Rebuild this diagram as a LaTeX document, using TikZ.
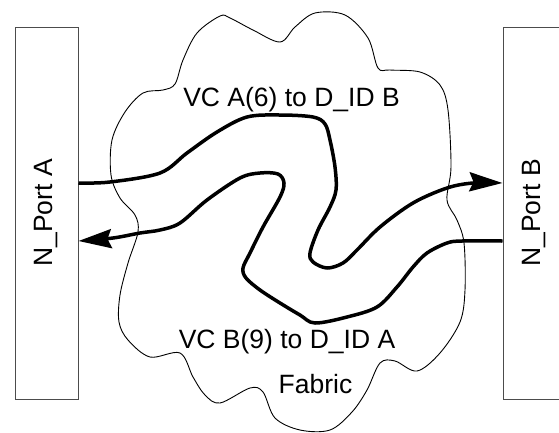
\documentclass[tikz,border=0pt]{standalone}
\usepackage{fontspec}
\setmainfont{Liberation Sans}
\usetikzlibrary{arrows.meta}

\tikzset{
  portbox/.style={draw=black!70, line width=1pt, minimum width=63pt, minimum height=372pt, inner sep=0pt},
  vc/.style={line width=3.5pt, line join=round},
  vctip/.style={-{Stealth[length=33pt, width=19pt, inset=4pt]}},
  lbl/.style={anchor=base, inner sep=0pt},
}

\begin{document}
\begin{tikzpicture}[x=1pt, y=-1pt, font=\fontsize{26.5}{30}\selectfont]
    \clip (0,0) rectangle (559,432);
    % The fabric cloud.
        \draw[line width=0.9pt] plot[smooth cycle, tension=0.55] coordinates {
            (220,16) (197,33) (183,60) (175,84) (163,90) (143,93) (125,112)
            (112,140) (111,175) (120,198) (135,215) (138,232) (128,263)
            (120,295) (119,322) (128,340) (150,357) (180,353) (193,377)
            (205,395) (220,403) (250,388) (263,392) (275,418) (300,430)
            (330,430) (352,412) (367,390) (380,363) (395,361) (417,371)
            (440,353) (460,322) (465,290) (464,243) (457,220) (447,200)
            (451,167) (448,110) (440,85) (420,72) (390,70) (378,68) (368,38)
            (345,15) (315,13) (295,27) (280,42) (253,30) (230,18)};
    % The two ports.
        \node[portbox] (porta) at (46.5,213) {\rotatebox{90}{N\_Port A}};
        \node[portbox] (portb) at (534.5,213) {\rotatebox{90}{N\_Port B}};
        \coordinate (aout) at ([yshift=30pt]porta.east);
        \coordinate (ain) at ([yshift=-28pt]porta.east);
        \coordinate (bin) at ([yshift=30pt]portb.west);
        \coordinate (bout) at ([yshift=-28pt]portb.west);
    % A(6) to B.
        \draw[vc, vctip] plot[smooth, tension=0.55] coordinates {
            (aout) (110,182) (160,173) (187,153) (217,132) (247,117) (280,115)
            (313,117) (325,124) (330,140) (335,167) (336,190) (330,207)
            (318,230) (310,253) (313,262) (327,268) (343,263) (357,250)
            (380,227) (413,203) (447,188) (473,183) (bin)};
    % B(9) to A.
        \draw[vc, vctip] plot[smooth, tension=0.55] coordinates {
            (bout) (462,241) (447,243) (427,253) (413,267) (397,287) (377,307)
            (347,317) (315,323) (300,315) (280,303) (260,290) (246,278)
            (243,268) (250,253) (263,227) (280,197) (284,183) (278,174)
            (260,173) (240,178) (207,200) (180,223) (160,230) (140,233)
            (113,238) (ain)};
    % Below nodes are the labels.
        \node[lbl] (vcab) at (291.5,106) {VC A(6) to D\_ID B};
        \node[lbl] (vcba) at (287,348.5) {VC B(9) to D\_ID A};
        \node[lbl] (fabric) at (315.5,393) {Fabric};
\end{tikzpicture}
\end{document}
